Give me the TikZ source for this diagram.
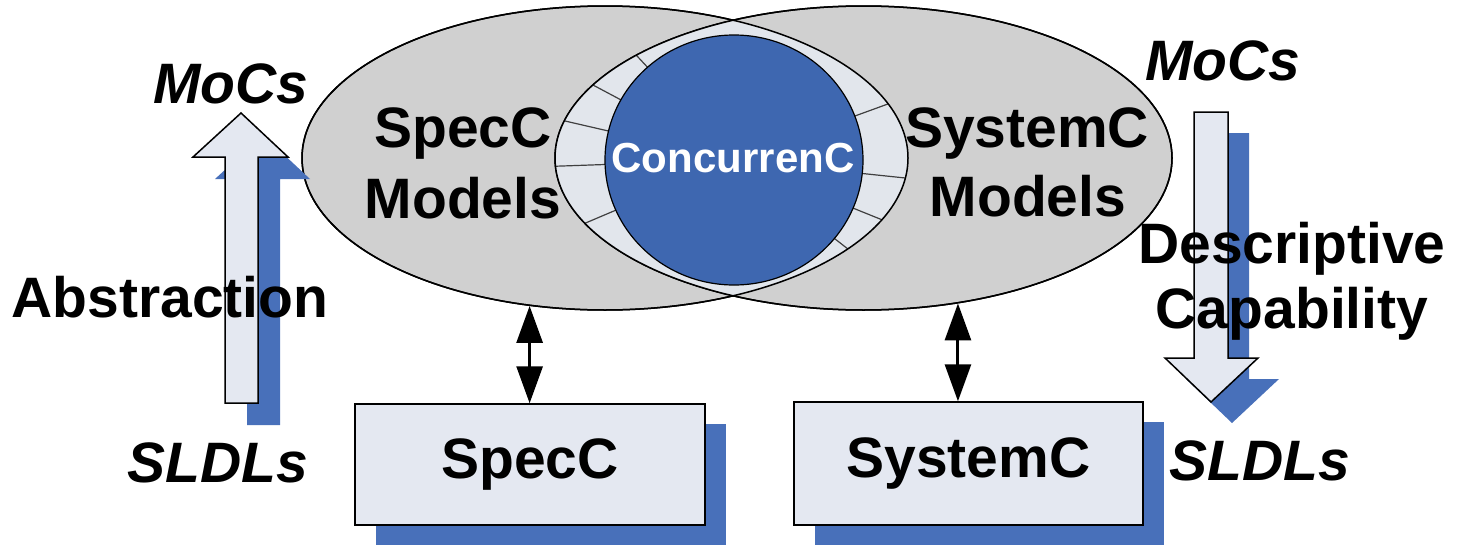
\documentclass[tikz,border=0pt]{standalone}
\usepackage{fontspec}
\setmainfont{Liberation Sans}
\usetikzlibrary{arrows.meta,shapes.geometric,shadows}
\definecolor{ellgray}{RGB}{208,208,208}
\definecolor{lensfill}{RGB}{226,230,236}
\definecolor{cblue}{RGB}{62,103,176}
\definecolor{boxfill}{RGB}{228,232,241}
\definecolor{shblue}{RGB}{72,112,186}
\begin{document}
\begin{tikzpicture}[x=1pt,y=-1pt,
  lbl/.style={font=\fontsize{57pt}{68pt}\selectfont\bfseries, anchor=base, inner sep=0pt},
  ilbl/.style={font=\fontsize{57pt}{68pt}\selectfont\bfseries\itshape, anchor=base, inner sep=0pt},
  ell/.style={ellipse, fill=ellgray, draw=black, line width=1.5pt, inner sep=0pt},
  boxst/.style={rectangle, fill=boxfill, draw=black, line width=1.5pt, inner sep=0pt,
    font=\fontsize{57pt}{68pt}\selectfont\bfseries,
    drop shadow={shadow xshift=21pt, shadow yshift=-20pt, fill=shblue, opacity=1}},
  blockarrow/.style={fill=boxfill, draw=black, line width=1.5pt, line join=miter},
  dbl/.style={line width=3pt, {Triangle[width=26pt,length=37pt]}-{Triangle[width=26pt,length=37pt]}},
  tick/.style={line width=1.2pt, black!75}]
\useasboundingbox (0,0) rectangle (1467,546);

% ellipses
\node[ell, minimum width=606pt, minimum height=304pt] (leftell) at (605,158) {};
\node[ell, minimum width=617pt, minimum height=304pt] (rightell) at (863.5,158) {};
\begin{scope}
  \clip (605,158) ellipse [x radius=303pt, y radius=152pt];
  \fill[lensfill] (863.5,158) ellipse [x radius=308.5pt, y radius=152pt];
  \begin{scope}
    \clip (863.5,158) ellipse [x radius=308.5pt, y radius=152pt];
    \foreach \a in {133,152,167,182,203,20,-6,-22,-38}
      \draw[tick] (734,160) -- ++(\a:260pt);
  \end{scope}
\end{scope}
\draw[line width=1.5pt] (605,158) ellipse [x radius=303pt, y radius=152pt];
\draw[line width=1.5pt] (863.5,158) ellipse [x radius=308.5pt, y radius=152pt];

% ConcurrenC circle
\node[ellipse, fill=cblue, draw=black, line width=1.2pt, minimum width=258pt,
      minimum height=250pt, inner sep=0pt] (ccirc) at (734,160) {};
\node[font=\fontsize{42pt}{50pt}\selectfont\bfseries, text=white, anchor=base,
      inner sep=0pt] (cctext) at (733,172) {ConcurrenC};

% model labels
\node[lbl] (specm1) at (463,147) {SpecC};
\node[lbl] (specm2) at (463,218) {Models};
\node[lbl] (sysm1) at (1027,147) {SystemC};
\node[lbl] (sysm2) at (1028,216) {Models};

% language boxes
\node[boxst, minimum width=350pt, minimum height=121pt] (specbox) at (530,464.5) {SpecC};
\node[boxst, minimum width=349pt, minimum height=123pt] (sysbox) at (968.5,463.5) {SystemC};

% connectors
\draw[dbl] (leftell.-117) -- (leftell.-117 |- specbox.north);
\draw[dbl] (rightell.-57.15) -- (rightell.-57.15 |- sysbox.north);

% abstraction arrow (up)
\begin{scope}[shift={(22,22)}]
  \fill[shblue] (225,403) -- (225,157) -- (193,157) -- (241,113) -- (288,157) -- (258,157) -- (258,403) -- cycle;
\end{scope}
\draw[blockarrow] (225,403) -- (225,157) -- (193,157) -- (241,113) -- (288,157) -- (258,157) -- (258,403) -- cycle;

% descriptive capability arrow (down)
\begin{scope}[shift={(21,21)}]
  \fill[shblue] (1194,112) -- (1228,112) -- (1228,358) -- (1258,358) -- (1211,402) -- (1165,358) -- (1194,358) -- cycle;
\end{scope}
\draw[blockarrow] (1194,112) -- (1228,112) -- (1228,358) -- (1258,358) -- (1211,402) -- (1165,358) -- (1194,358) -- cycle;

% side labels
\node[ilbl] (lmocs) at (231,103) {MoCs};
\node[ilbl] (lsldls) at (218,482) {SLDLs};
\node[lbl] (abstr) at (170,317) {Abstraction};
\node[ilbl] (rmocs) at (1223,80) {MoCs};
\node[ilbl] (rsldls) at (1260,480) {SLDLs};
\node[lbl] (descr) at (1292,263) {Descriptive};
\node[lbl] (capab) at (1292,328) {Capability};
\end{tikzpicture}
\end{document}
